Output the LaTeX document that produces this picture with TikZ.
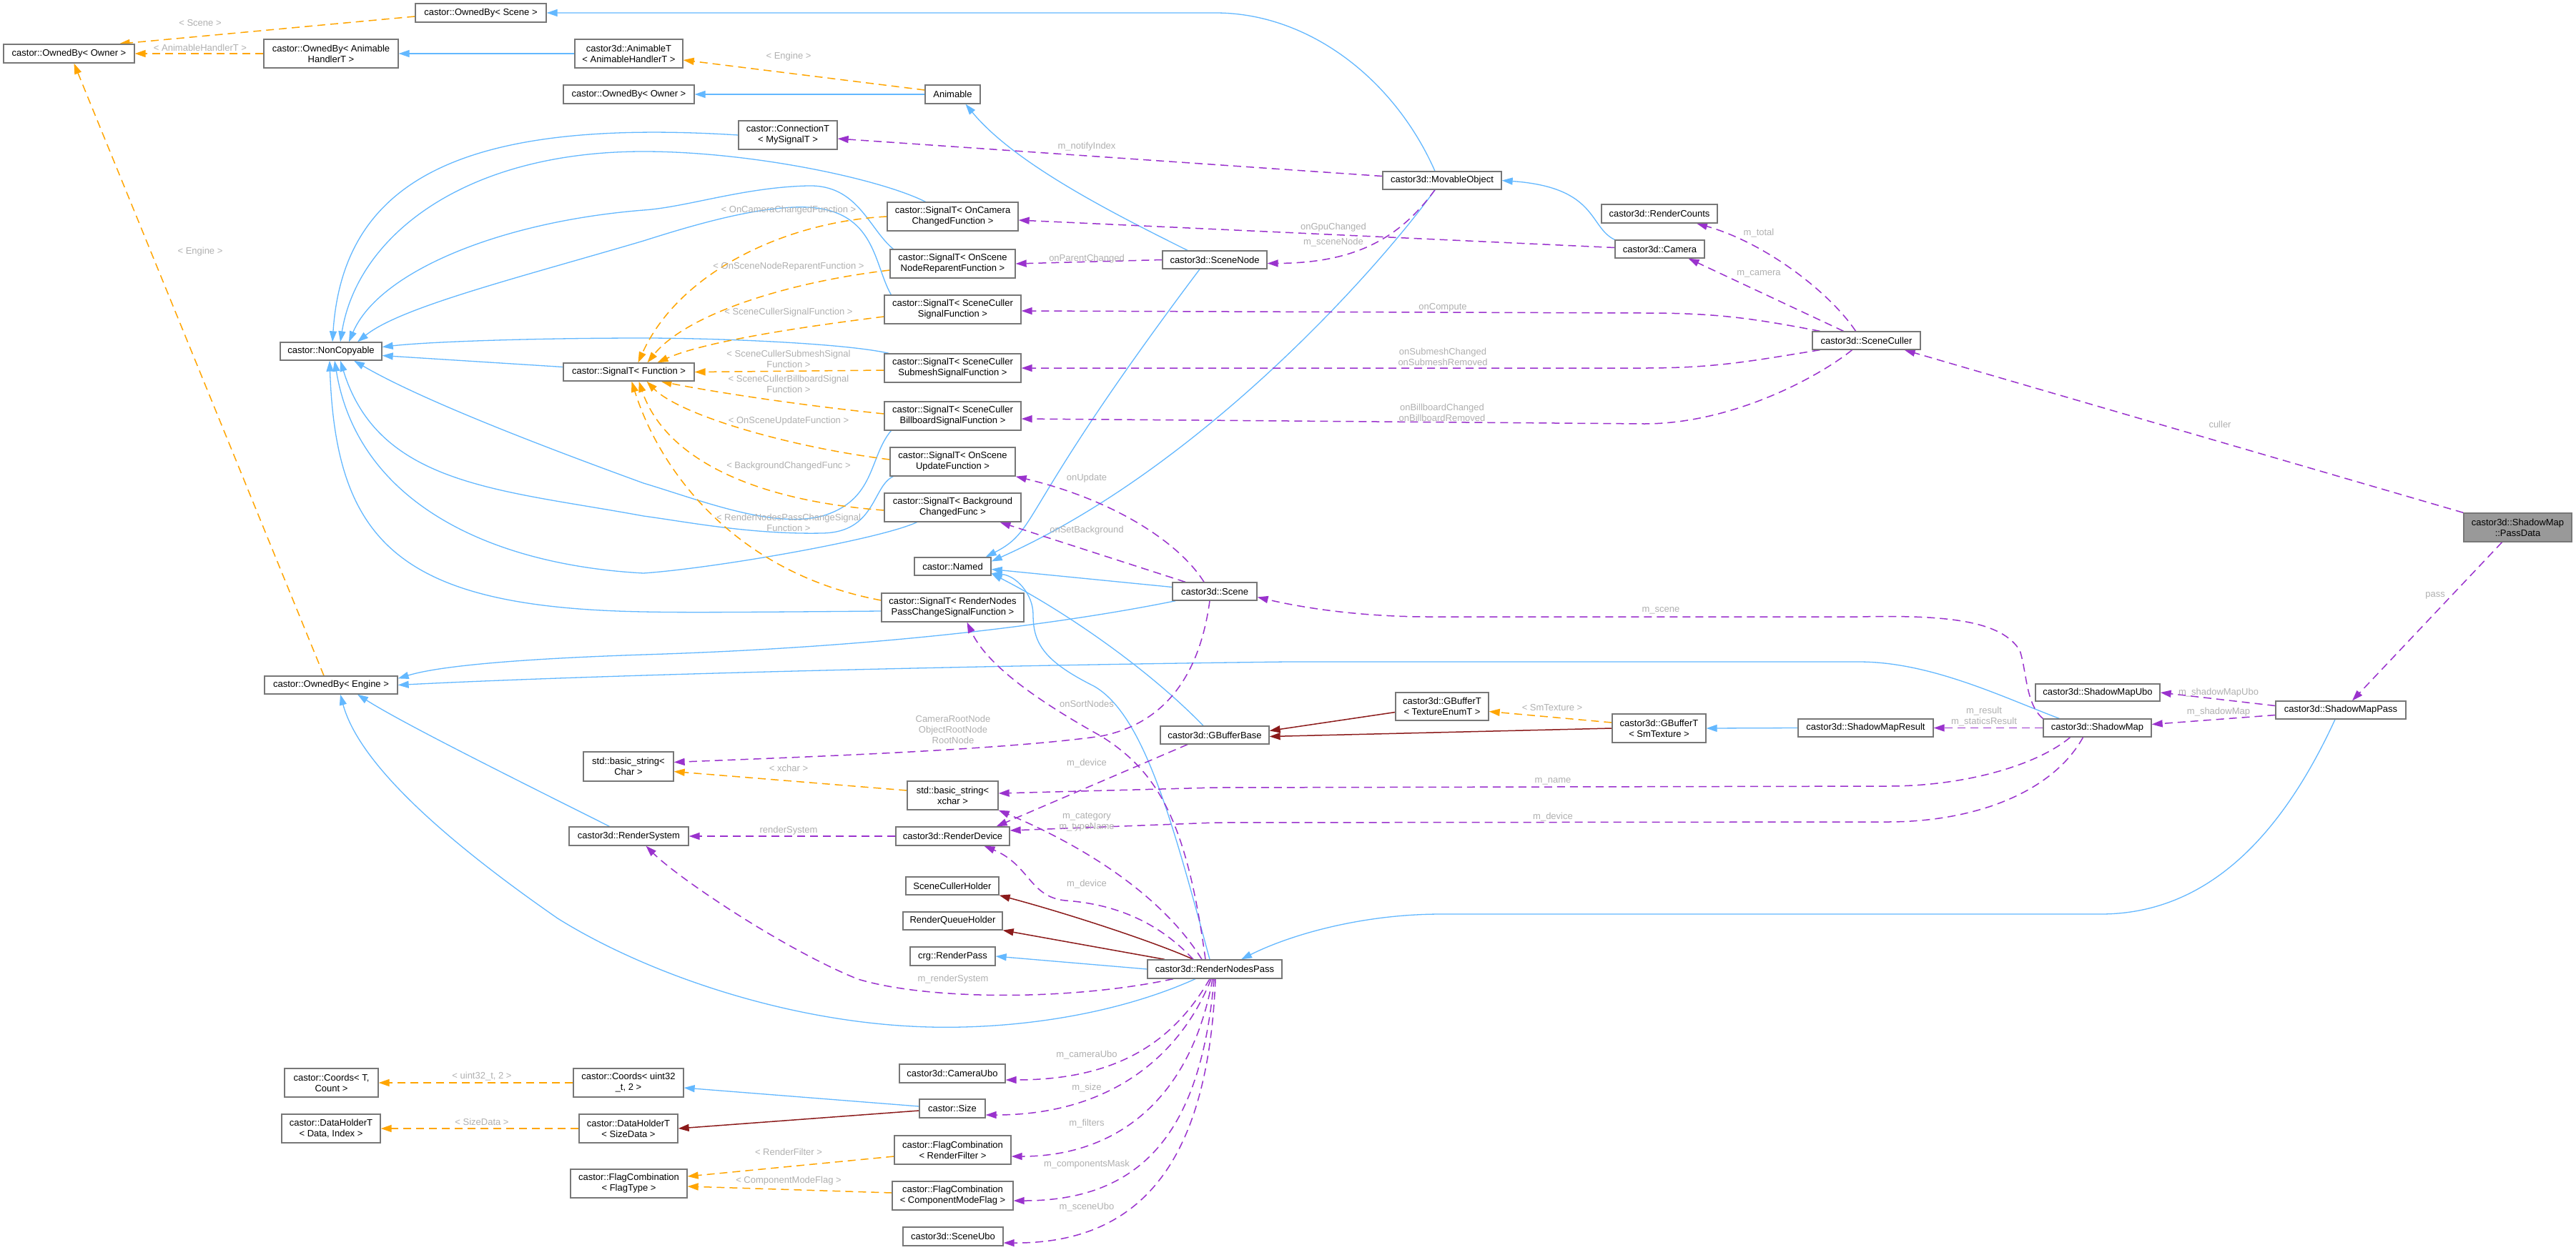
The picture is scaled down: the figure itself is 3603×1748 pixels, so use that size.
\documentclass[tikz,border=0pt]{standalone}
\usepackage{fontspec}
\setmainfont{Liberation Sans}
\usetikzlibrary{arrows.meta}
\definecolor{inhblue}{HTML}{63B8FF}
\definecolor{tplorange}{HTML}{FFA500}
\definecolor{usepurple}{HTML}{9A32CD}
\definecolor{protred}{HTML}{8B1A1A}
\definecolor{bordergray}{HTML}{777777}
\definecolor{labelgray}{HTML}{B0B0B0}
\definecolor{focusgray}{HTML}{999999}
\newcommand\dxfont{\fontsize{13}{15}\selectfont}
\pgfdeclarelayer{back}\pgfdeclarelayer{bgl}\pgfsetlayers{back,bgl,main}
\tikzset{
 nd/.style={draw=bordergray, line width=1.3pt, fill=white, inner sep=0pt, align=center, font=\dxfont, text=black},
 lbl/.style={font=\dxfont, text=labelgray, inner sep=0pt, align=center},
 cnx/.style={line width=1.3pt, -{Triangle[length=15pt,width=10pt]}},
 inh/.style={cnx, draw=inhblue},
 tpl/.style={cnx, line width=1.5pt, draw=tplorange, dash pattern=on 11pt off 7pt},
 use/.style={cnx, line width=1.5pt, draw=usepurple, dash pattern=on 11pt off 7pt},
 prot/.style={cnx, line width=1.5pt, draw=protred},
}
\newcommand\mkbox[7][]{%
  \pgfmathsetmacro\bxc{(#3+#5)/2}%
  \pgfmathsetmacro\byc{(#4+#6)/2}%
  \pgfmathsetmacro\bxw{#5-#3}%
  \pgfmathsetmacro\byh{#6-#4}%
  \node[nd,#1,minimum width=\bxw pt,minimum height=\byh pt] (#2) at (\bxc,\byc) {#7};}
\begin{document}
\begin{tikzpicture}[x=1pt,y=-1pt]
\begin{pgfonlayer}{back}\fill[white] (0,0) rectangle (3603,1748);\end{pgfonlayer}
\useasboundingbox (0,0) rectangle (3603,1748);
% nodes
\mkbox{obScene}{581}{5}{764}{31}{castor::OwnedBy< Scene >}
\mkbox{obOwner}{5}{62}{188}{88}{castor::OwnedBy< Owner >}
\mkbox{obAnim}{369}{55}{557}{95}{castor::OwnedBy< Animable\\HandlerT >}
\mkbox{animT}{804}{55}{955}{95}{castor3d::AnimableT\\< AnimableHandlerT >}
\mkbox{obOwnerB}{788}{119}{971}{145}{castor::OwnedBy< Owner >}
\mkbox{animable}{1294}{119}{1371}{145}{Animable}
\mkbox{conn}{1033}{169}{1171}{209}{castor::ConnectionT\\< MySignalT >}
\mkbox{movable}{1934}{240}{2100}{265}{castor3d::MovableObject}
\mkbox{sigCam}{1241}{283}{1424}{323}{castor::SignalT< OnCamera\\ChangedFunction >}
\mkbox{counts}{2240}{286}{2402}{312}{castor3d::RenderCounts}
\mkbox{camera}{2259}{336}{2384}{361}{castor3d::Camera}
\mkbox{sigRep}{1245}{349}{1420}{389}{castor::SignalT< OnScene\\NodeReparentFunction >}
\mkbox{sceneNode}{1626}{351}{1772}{376}{castor3d::SceneNode}
\mkbox{sigCull}{1237}{413}{1428}{453}{castor::SignalT< SceneCuller\\SignalFunction >}
\mkbox{culler}{2535}{464}{2686}{489}{castor3d::SceneCuller}
\mkbox{nonCopy}{392}{479}{534}{504}{castor::NonCopyable}
\mkbox{sigFn}{788}{508}{971}{533}{castor::SignalT< Function >}
\mkbox{sigSub}{1237}{495}{1428}{535}{castor::SignalT< SceneCuller\\SubmeshSignalFunction >}
\mkbox{sigBill}{1237}{562}{1428}{602}{castor::SignalT< SceneCuller\\BillboardSignalFunction >}
\mkbox{sigUpd}{1245}{626}{1420}{666}{castor::SignalT< OnScene\\UpdateFunction >}
\mkbox{sigBg}{1237}{690}{1428}{730}{castor::SignalT< Background\\ChangedFunc >}
\mkbox[fill=focusgray]{passData}{3446}{718}{3597}{758}{castor3d::ShadowMap\\::PassData}
\mkbox{named}{1279}{780}{1386}{805}{castor::Named}
\mkbox{scene}{1640}{815}{1758}{840}{castor3d::Scene}
\mkbox{sigRN}{1233}{830}{1432}{870}{castor::SignalT< RenderNodes\\PassChangeSignalFunction >}
\mkbox{obEngine}{370}{946}{556}{971}{castor::OwnedBy< Engine >}
\mkbox{smUbo}{2847}{957}{3021}{981}{castor3d::ShadowMapUbo}
\mkbox{gbT}{1952}{969}{2082}{1008}{castor3d::GBufferT\\< TextureEnumT >}
\mkbox{smPass}{3183}{981}{3365}{1006}{castor3d::ShadowMapPass}
\mkbox{gbSm}{2255}{999}{2386}{1039}{castor3d::GBufferT\\< SmTexture >}
\mkbox{smResult}{2515}{1006}{2704}{1031}{castor3d::ShadowMapResult}
\mkbox{shadowMap}{2858}{1006}{3009}{1031}{castor3d::ShadowMap}
\mkbox{gbBase}{1623}{1016}{1775}{1041}{castor3d::GBufferBase}
\mkbox{strChar}{816}{1052}{942}{1093}{std::basic\_string<\\Char >}
\mkbox{strX}{1269}{1093}{1396}{1133}{std::basic\_string<\\xchar >}
\mkbox{rsys}{796}{1157}{963}{1183}{castor3d::RenderSystem}
\mkbox{rdev}{1253}{1157}{1412}{1183}{castor3d::RenderDevice}
\mkbox{sch}{1267}{1227}{1397}{1252}{SceneCullerHolder}
\mkbox{rqh}{1263}{1276}{1402}{1301}{RenderQueueHolder}
\mkbox{crg}{1273}{1325}{1392}{1351}{crg::RenderPass}
\mkbox{rnp}{1605}{1343}{1793}{1369}{castor3d::RenderNodesPass}
\mkbox{camUbo}{1258}{1489}{1406}{1515}{castor3d::CameraUbo}
\mkbox{coordsT}{398}{1495}{529}{1535}{castor::Coords< T,\\Count >}
\mkbox{coordsU}{802}{1495}{956}{1535}{castor::Coords< uint32\\\_t, 2 >}
\mkbox{size}{1286}{1538}{1378}{1564}{castor::Size}
\mkbox{dhT}{394}{1559}{532}{1599}{castor::DataHolderT\\< Data, Index >}
\mkbox{dhS}{810}{1559}{948}{1599}{castor::DataHolderT\\< SizeData >}
\mkbox{fcRF}{1251}{1589}{1414}{1629}{castor::FlagCombination\\< RenderFilter >}
\mkbox{fcT}{798}{1636}{961}{1676}{castor::FlagCombination\\< FlagType >}
\mkbox{fcCM}{1248}{1653}{1417}{1693}{castor::FlagCombination\\< ComponentModeFlag >}
\mkbox{sceneUbo}{1263}{1717}{1403}{1743}{castor3d::SceneUbo}
% labels
\node[lbl] (l01) at (280,32) {< Scene >};
\node[lbl] (l02) at (280,67) {< AnimableHandlerT >};
\node[lbl] (l03) at (280,352) {< Engine >};
\node[lbl] (l04) at (1103,79) {< Engine >};
\node[lbl] (l05) at (1520,205) {m\_notifyIndex};
\node[lbl] (l06) at (1103,294) {< OnCameraChangedFunction >};
\node[lbl] (l07) at (1103,373) {< OnSceneNodeReparentFunction >};
\node[lbl] (l08) at (1520,362) {onParentChanged};
\node[lbl] (l09) at (1103,437) {< SceneCullerSignalFunction >};
\node[lbl] (l10) at (1103,502) {< SceneCullerSubmeshSignal\\Function >};
\node[lbl] (l11) at (1103,537) {< SceneCullerBillboardSignal\\Function >};
\node[lbl] (l12) at (1103,589) {< OnSceneUpdateFunction >};
\node[lbl] (l13) at (1103,652) {< BackgroundChangedFunc >};
\node[lbl] (l14) at (1103,731) {< RenderNodesPassChangeSignal\\Function >};
\node[lbl] (l15) at (1520,669) {onUpdate};
\node[lbl] (l16) at (1520,742) {onSetBackground};
\node[lbl] (l17) at (1520,985) {onSortNodes};
\node[lbl] (l18) at (1333,1021) {CameraRootNode\\ObjectRootNode\\RootNode};
\node[lbl] (l19) at (1520,1068) {m\_device};
\node[lbl] (l20) at (1103,1075) {< xchar >};
\node[lbl] (l21) at (1103,1162) {renderSystem};
\node[lbl] (l22) at (1520,1150) {m\_category\\m\_typeName};
\node[lbl] (l23) at (1520,1237) {m\_device};
\node[lbl] (l24) at (1333,1370) {m\_renderSystem};
\node[lbl] (l25) at (1520,1476) {m\_cameraUbo};
\node[lbl] (l26) at (1520,1522) {m\_size};
\node[lbl] (l27) at (1520,1572) {m\_filters};
\node[lbl] (l28) at (1520,1629) {m\_componentsMask};
\node[lbl] (l29) at (1520,1689) {m\_sceneUbo};
\node[lbl] (l30) at (1103,1612) {< RenderFilter >};
\node[lbl] (l31) at (1103,1652) {< ComponentModeFlag >};
\node[lbl] (l32) at (674,1506) {< uint32\_t, 2 >};
\node[lbl] (l33) at (674,1570) {< SizeData >};
\node[lbl] (l34) at (1865,318) {onGpuChanged};
\node[lbl] (l35) at (1865,339) {m\_sceneNode};
\node[lbl] (l36) at (2460,326) {m\_total};
\node[lbl] (l37) at (2460,383) {m\_camera};
\node[lbl] (l38) at (2018,430) {onCompute};
\node[lbl] (l39) at (2018,499) {onSubmeshChanged\\onSubmeshRemoved};
\node[lbl] (l40) at (2017,577) {onBillboardChanged\\onBillboardRemoved};
\node[lbl] (l41) at (2323,854) {m\_scene};
\node[lbl] (l42) at (2171,990) {< SmTexture >};
\node[lbl] (l43) at (2172,1093) {m\_name};
\node[lbl] (l44) at (2172,1143) {m\_device};
\node[lbl] (l45) at (3105,594) {culler};
\node[lbl] (l46) at (3406,833) {pass};
\node[lbl] (l47) at (3103,969) {m\_shadowMapUbo};
\node[lbl] (l48) at (3103,996) {m\_shadowMap};
\node[lbl] (l49) at (2775,1003) {m\_result\\m\_staticsResult};
\begin{pgfonlayer}{bgl}
% inheritance (blue)
\draw[inh] ([xshift=-10pt]movable.north) .. controls (1950,110) and (1830,18) .. (1700,18) -- (obScene.east);
\draw[inh] ([xshift=-10pt]movable.south) .. controls (1940,360) and (1690,650) .. ([yshift=7pt]named.east);
\draw[inh] ([xshift=-21pt]sceneNode.south) .. controls (1420,720) and (1455,740) .. ([xshift=-8pt]named.north east);
\draw[inh] ([xshift=-38pt]sceneNode.north) .. controls (1560,300) and (1420,230) .. ([xshift=18pt]animable.south);
\draw[inh] (animT.west) -- (obAnim.east);
\draw[inh] (animable.west) -- (obOwnerB.east);
\draw[inh] (camera.north west) .. controls (2222,318) and (2235,262) .. (movable.east);
\draw[inh] (conn.west) .. controls (650,165) and (480,250) .. ([xshift=2pt]nonCopy.north);
\draw[inh] ([xshift=-38pt]sigCam.north) .. controls (1230,250) and (1050,212) .. (900,212) .. controls (650,212) and (500,330) .. ([xshift=13pt]nonCopy.north);
\draw[inh] ([xshift=5pt]sigRep.north west) .. controls (1215,320) and (1200,258) .. (1130,260) .. controls (1040,262) and (960,290) .. (900,294) .. controls (700,310) and (530,380) .. ([xshift=25pt]nonCopy.north);
\draw[inh] ([xshift=10pt]sigCull.north west) .. controls (1222,370) and (1225,295) .. (1130,290) .. controls (1060,287) and (960,318) .. (900,337) .. controls (720,390) and (560,430) .. ([xshift=37pt]nonCopy.north);
\draw[inh] ([xshift=7pt]sigSub.north west) .. controls (1180,480) and (1000,473) .. (900,473) .. controls (750,473) and (600,478) .. ([yshift=6pt]nonCopy.east);
\draw[inh] ([yshift=7pt]sigFn.west) -- ([yshift=-6pt]nonCopy.east);
\draw[inh] ([xshift=10pt]sigBill.south west) .. controls (1215,640) and (1225,700) .. (1150,722) .. controls (1080,740) and (980,700) .. (900,676) .. controls (760,625) and (590,560) .. ([xshift=32pt]nonCopy.south);
\draw[inh] ([xshift=5pt]sigUpd.south west) .. controls (1220,680) and (1225,745) .. (1150,746) .. controls (1050,748) and (960,730) .. (900,722) .. controls (700,685) and (530,680) .. ([xshift=13pt]nonCopy.south);
\draw[inh] ([xshift=-50pt]sigBg.south) .. controls (1230,755) and (1000,795) .. (900,802) .. controls (680,790) and (500,700) .. ([xshift=5pt]nonCopy.south);
\draw[inh] ([yshift=-5pt]sigRN.west) .. controls (1000,857) and (950,857) .. (900,856) .. controls (560,850) and (470,760) .. ([xshift=-2pt]nonCopy.south);
\draw[inh] ([xshift=5pt]scene.south west) .. controls (1500,870) and (1250,905) .. (900,916) .. controls (750,921) and (620,930) .. ([yshift=-4pt]obEngine.north east);
\draw[inh] ([xshift=23pt]shadowMap.north west) .. controls (2800,975) and (2700,926) .. (2600,926) -- (1800,926) .. controls (1300,932) and (800,946) .. (obEngine.east);
\draw[inh] ([xshift=-27pt]rsys.north) .. controls (700,1080) and (560,1010) .. ([xshift=37pt]obEngine.south);
\draw[inh] ([xshift=-27pt]rnp.south) .. controls (1560,1420) and (1420,1440) .. (1300,1437) .. controls (1100,1432) and (900,1360) .. (780,1285) .. controls (600,1160) and (500,1060) .. ([xshift=13pt]obEngine.south);
\draw[inh] ([yshift=6pt]scene.west) -- ([yshift=-4pt]named.east);
\draw[inh] ([xshift=-16pt]gbBase.north) .. controls (1600,930) and (1480,850) .. ([yshift=-10pt]named.east);
\draw[inh] ([xshift=-7pt]rnp.north) .. controls (1640,1150) and (1600,1000) .. (1530,960) .. controls (1460,925) and (1445,900) .. (1445,860) .. controls (1445,830) and (1420,805) .. ([yshift=-10pt]named.east);
\draw[inh] (rnp.west) -- (crg.east);
\draw[inh] ([xshift=-8pt]smPass.south) .. controls (3200,1150) and (3100,1279) .. (2938,1279) -- (2016,1279) .. controls (1900,1279) and (1800,1310) .. ([xshift=37pt]rnp.north);
\draw[inh] (smResult.west) -- (gbSm.east);
\draw[inh] ([yshift=3pt]size.west) -- ([yshift=-7pt]coordsU.east);
% protected (dark red)
\draw[prot] ([yshift=-8pt]gbT.west) -- ([yshift=6pt]gbBase.east);
\draw[prot] (gbSm.west) -- ([yshift=-2pt]gbBase.east);
\draw[prot] ([xshift=-30pt]rnp.north) .. controls (1620,1320) and (1500,1280) .. (sch.south east);
\draw[prot] ([xshift=-70pt]rnp.north) -- (rqh.south east);
\draw[prot] ([yshift=-3pt]size.west) -- (dhS.east);
% template (orange)
\draw[tpl] ([yshift=-5pt]obScene.west) -- ([xshift=-22pt]obOwner.north east);
\draw[tpl] (obAnim.west) -- (obOwner.east);
\draw[tpl] ([xshift=-10pt]obEngine.north) -- ([xshift=7pt]obOwner.south);
\draw[tpl] ([yshift=6pt]animable.west) -- ([yshift=-9pt]animT.east);
\draw[tpl] (sigCam.west) .. controls (1100,310) and (950,380) .. ([xshift=13pt]sigFn.north);
\draw[tpl] ([yshift=-9pt]sigRep.west) .. controls (1100,395) and (960,440) .. ([xshift=26pt]sigFn.north);
\draw[tpl] ([yshift=-10pt]sigCull.west) .. controls (1100,460) and (980,480) .. ([xshift=40pt]sigFn.north);
\draw[tpl] ([yshift=-3pt]sigSub.west) -- (sigFn.east);
\draw[tpl] ([yshift=3pt]sigBill.west) .. controls (1100,565) and (980,545) .. ([xshift=45pt]sigFn.south);
\draw[tpl] ([yshift=3pt]sigUpd.west) .. controls (1100,625) and (950,580) .. ([xshift=25pt]sigFn.south);
\draw[tpl] ([yshift=-4pt]sigBg.west) .. controls (1050,700) and (930,640) .. ([xshift=14pt]sigFn.south);
\draw[tpl] ([yshift=10pt]sigRN.west) .. controls (1020,800) and (920,650) .. ([xshift=4pt]sigFn.south);
\draw[tpl] (coordsU.west) -- (coordsT.east);
\draw[tpl] (dhS.west) -- (dhT.east);
\draw[tpl] ([yshift=-9pt]fcRF.west) -- ([yshift=10pt]fcT.east);
\draw[tpl] ([yshift=4pt]fcCM.west) -- ([yshift=-4pt]fcT.east);
\draw[tpl] ([yshift=7pt]strX.west) -- ([yshift=-7pt]strChar.east);
\draw[tpl] ([yshift=8pt]gbSm.west) -- ([yshift=-7pt]gbT.east);
% usage (purple)
\draw[use] ([yshift=6pt]movable.west) -- ([yshift=-5pt]conn.east);
\draw[use] ([yshift=2pt]camera.west) -- ([yshift=-5pt]sigCam.east);
\draw[use] ([xshift=-10pt]movable.south) .. controls (1960,330) and (1900,368) .. ([yshift=-5pt]sceneNode.east);
\draw[use] (sceneNode.west) -- (sigRep.east);
\draw[use] ([xshift=-15pt]culler.north) .. controls (2560,410) and (2470,340) .. ([xshift=52pt]counts.south);
\draw[use] ([xshift=-32pt]culler.north) -- ([xshift=40pt]camera.south);
\draw[use] ([xshift=-65pt]culler.north) .. controls (2450,445) and (2400,438) .. (2300,438) -- ([yshift=-2pt]sigCull.east);
\draw[use] ([xshift=-65pt]culler.south) .. controls (2450,505) and (2400,515) .. (2300,515) -- (sigSub.east);
\draw[use] ([xshift=-20pt]culler.south) .. controls (2540,530) and (2420,593) .. (2300,593) -- ([yshift=-4pt]sigBill.east);
\draw[use] (passData.north west) -- ([xshift=-23pt]culler.south east);
\draw[use] ([xshift=-22pt]passData.south) -- ([xshift=16pt]smPass.north);
\draw[use] ([yshift=6pt]smPass.west) -- (smUbo.east);
\draw[use] ([yshift=-7pt]smPass.west) -- ([yshift=5pt]shadowMap.east);
\draw[use] (shadowMap.west) -- (smResult.east);
\draw[use] (shadowMap.north west) .. controls (2833,985) and (2835,940) .. (2825,910) .. controls (2800,870) and (2730,860) .. (2600,863) -- (2000,863) .. controls (1900,863) and (1820,850) .. ([yshift=-8pt]scene.east);
\draw[use] ([xshift=-38pt]shadowMap.south) .. controls (2850,1070) and (2750,1100) .. (2640,1100) -- (1700,1102) -- ([yshift=3pt]strX.east);
\draw[use] ([xshift=-20pt]shadowMap.south) .. controls (2870,1110) and (2760,1150) .. (2640,1150) -- (1700,1151) -- ([yshift=8pt]rdev.east);
\draw[use] ([xshift=-15pt]scene.north) .. controls (1650,760) and (1560,700) .. (sigUpd.south east);
\draw[use] ([xshift=-41pt]scene.north) -- ([xshift=66pt]sigBg.south);
\draw[use] ([xshift=-7pt]scene.south) .. controls (1680,930) and (1640,1010) .. (1540,1030) .. controls (1400,1050) and (1100,1060) .. ([yshift=6pt]strChar.east);
\draw[use] ([xshift=-13pt]rnp.north) .. controls (1660,1150) and (1620,1080) .. (1540,1030) .. controls (1450,980) and (1380,930) .. ([xshift=20pt]sigRN.south);
\draw[use] ([xshift=-38pt]gbBase.south) -- ([xshift=61pt]rdev.north);
\draw[use] ([xshift=-18pt]rnp.north) .. controls (1630,1260) and (1530,1190) .. (strX.south east);
\draw[use] ([xshift=-30pt]rnp.north) .. controls (1620,1290) and (1560,1265) .. (1490,1260) .. controls (1440,1255) and (1440,1210) .. ([xshift=44pt]rdev.south);
\draw[use] (rdev.west) -- (rsys.east);
\draw[use] ([xshift=-58pt]rnp.south) .. controls (1500,1400) and (1300,1400) .. (1200,1370) .. controls (1100,1330) and (950,1230) .. ([xshift=24pt]rsys.south);
\draw[use] ([xshift=-7pt]rnp.south) .. controls (1640,1460) and (1560,1511) .. ([yshift=-9pt]camUbo.east);
\draw[use] ([xshift=-5pt]rnp.south) .. controls (1650,1480) and (1550,1560) .. ([yshift=-9pt]size.east);
\draw[use] ([xshift=-3pt]rnp.south) .. controls (1665,1540) and (1560,1618) .. ([yshift=-9pt]fcRF.east);
\draw[use] ([xshift=-1pt]rnp.south) .. controls (1680,1580) and (1600,1680) .. ([yshift=-7pt]fcCM.east);
\draw[use] ([xshift=1pt]rnp.south) .. controls (1690,1620) and (1600,1740) .. ([yshift=-9pt]sceneUbo.east);
\end{pgfonlayer}
\end{tikzpicture}
\end{document}
